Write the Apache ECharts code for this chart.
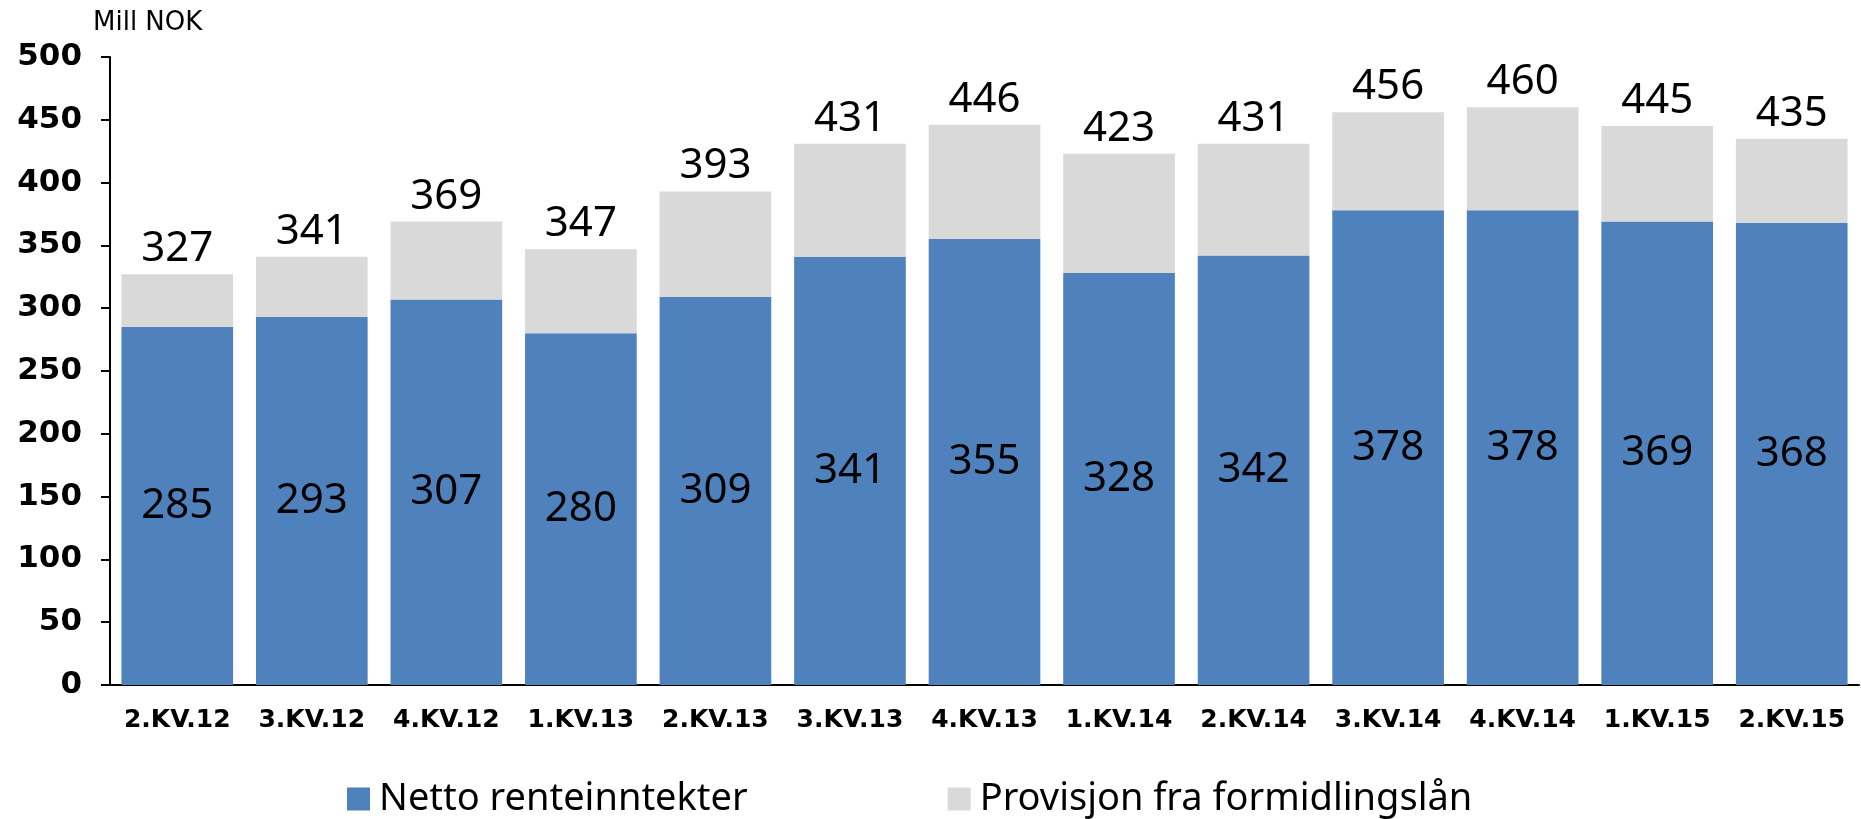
<!DOCTYPE html>
<html>
<head>
<meta charset="utf-8">
<script src="https://cdn.jsdelivr.net/npm/echarts@6/dist/echarts.min.js"></script>
<style>
  html, body { margin: 0; padding: 0; background: #fff; }
  #chart { width: 1861px; height: 819px; }
</style>
</head>
<body>
<div id="chart"></div>
<script>
// kvartaler
var categories = ['2.KV.12', '3.KV.12', '4.KV.12', '1.KV.13', '2.KV.13', '3.KV.13', '4.KV.13',
                  '1.KV.14', '2.KV.14', '3.KV.14', '4.KV.14', '1.KV.15', '2.KV.15'];
// Netto renteinntekter (blå)
var netto = [285, 293, 307, 280, 309, 341, 355, 328, 342, 378, 378, 369, 368];
// Provisjon fra formidlingslån (grå)
var provisjon = [42, 48, 62, 67, 84, 90, 91, 95, 89, 78, 82, 76, 67];
var yTicks = [0, 50, 100, 150, 200, 250, 300, 350, 400, 450, 500];

var chart = echarts.init(document.getElementById('chart'));
chart.setOption({
    animation: false,
    title: {
        text: 'Mill NOK',
        left: 88,
        top: 5,
        textStyle: { fontFamily: 'DejaVu Sans', fontSize: 26, fontWeight: 500, color: '#000' }
    },
    legend: {
        left: 347,
        top: 780,
        padding: 0,
        itemWidth: 23,
        itemHeight: 23,
        itemGap: 200,
        icon: 'rect',
        textStyle: { fontFamily: 'Noto Sans', fontSize: 38, lineHeight: 38, color: '#000', padding: [0, 0, 0, 4] },
        data: ['Netto renteinntekter', 'Provisjon fra formidlingslån']
    },
    grid: { left: 110, right: 2, top: 57, bottom: 134 },
    xAxis: {
        type: 'category',
        data: categories,
        axisLine: { lineStyle: { color: '#000', width: 2 } },
        axisTick: { interval: 0, length: 8, lineStyle: { color: '#000', width: 2 } },
        axisLabel: { interval: 0, hideOverlap: false, margin: 23, fontFamily: 'DejaVu Sans', fontWeight: 'bold', fontSize: 25, color: '#000' }
    },
    yAxis: {
        type: 'value',
        min: yTicks[0],
        max: yTicks[yTicks.length - 1],
        interval: 50,
        splitLine: { show: false },
        axisLine: { show: true, lineStyle: { color: '#000', width: 2 } },
        axisTick: { show: true, length: 9, lineStyle: { color: '#000', width: 2 } },
        axisLabel: { margin: 28, fontFamily: 'DejaVu Sans', fontWeight: 'bold', fontSize: 31, color: '#000' }
    },
    series: [
        {
            name: 'Netto renteinntekter',
            type: 'bar',
            stack: 'tot',
            barCategoryGap: '17%',
            itemStyle: { color: '#4F81BD' },
            label: {
                show: true,
                position: 'inside',
                fontFamily: 'Noto Sans',
                fontSize: 42,
                color: '#000'
            },
            data: netto
        },
        {
            name: 'Provisjon fra formidlingslån',
            type: 'bar',
            stack: 'tot',
            itemStyle: { color: '#D9D9D9' },
            label: {
                show: true,
                position: 'top',
                distance: 4,
                fontFamily: 'Noto Sans',
                fontSize: 42,
                color: '#000',
                formatter: function (p) { return netto[p.dataIndex] + provisjon[p.dataIndex]; }
            },
            data: provisjon
        }
    ]
});
</script>
</body>
</html>
